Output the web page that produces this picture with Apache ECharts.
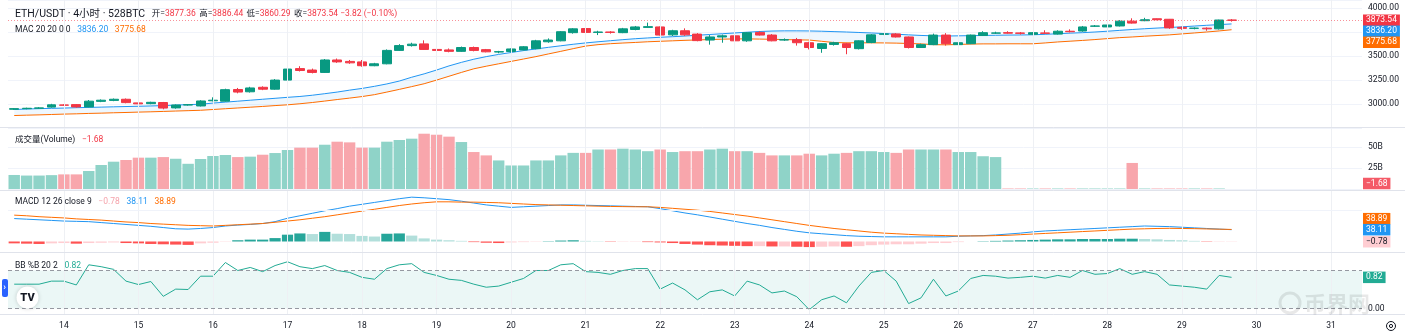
<!DOCTYPE html>
<html><head><meta charset="utf-8">
<script src="https://cdn.jsdelivr.net/npm/echarts@6.0.0/dist/echarts.min.js"></script>
<style>html,body{margin:0;padding:0;background:#fff}#c{width:1405px;height:336px}</style>
</head><body><div id="c"></div>
<script>
// ---------- data ----------
const dayLabels = ['14','15','16','17','18','19','20','21','22','23','24','25','26','27','28','29','30','31'];
const startDay = 13, startHour = 8, slotCount = 109;

const open = [2946,2952,2956,2968,2990,2994,2970,3028,3038,3050, 3012,3004,3016,2960,2990,2980,3034,3030,3152,3128, 3175,3155,3250,3370,3355,3330,3460,3445,3440,3400, 3420,3560,3610,3628,3570,3565,3550,3590,3568,3543, 3548,3565,3578,3650,3660,3745,3788,3748,3752,3745, 3778,3800,3805,3722,3765,3730,3668,3700,3712,3660, 3748,3720,3668,3672,3640,3580,3622,3630,3578,3642, 3728,3732,3700,3590,3620,3720,3620,3630,3715,3740, 3745,3742,3728,3742,3730,3760,3762,3812,3805,3815, 3865,3870,3890,3885,3800,3790,3792,3785,3877.36];
const close = [2952,2956,2960,2992,2988,2970,3030,3040,3050,3015, 3002,3018,2958,2990,2993,3032,3040,3150,3125,3168, 3155,3250,3365,3350,3330,3460,3440,3430,3400,3420, 3560,3610,3625,3570,3560,3550,3590,3560,3545,3547, 3575,3598,3660,3668,3755,3785,3748,3752,3748,3785, 3805,3808,3720,3765,3722,3662,3700,3712,3660,3745, 3720,3660,3672,3640,3590,3630,3640,3590,3660,3722, 3732,3700,3590,3620,3720,3630,3640,3720,3745,3742, 3740,3738,3745,3738,3760,3755,3805,3815,3825,3865, 3845,3880,3880,3795,3790,3792,3785,3877,3873.54];
const high = [2958,2962,2968,3002,2998,3000,3042,3048,3058,3058, 3018,3024,3022,2996,3000,3040,3070,3160,3168,3180, 3185,3260,3375,3395,3370,3470,3475,3460,3460,3430, 3570,3625,3640,3665,3590,3580,3600,3600,3575,3555, 3580,3605,3670,3685,3762,3792,3810,3765,3760,3795, 3815,3850,3810,3775,3790,3740,3720,3725,3730,3752, 3760,3730,3685,3690,3650,3635,3650,3640,3665,3730, 3740,3740,3705,3630,3735,3740,3655,3725,3760,3755, 3760,3752,3752,3770,3770,3780,3815,3825,3835,3875, 3895,3900,3893,3888,3808,3800,3800,3880,3886.44];
const low = [2938,2945,2950,2962,2980,2962,2965,3020,3030,3008, 2995,2998,2945,2952,2984,2975,3028,3025,3112,3120, 3145,3150,3240,3340,3320,3325,3430,3420,3390,3395, 3415,3555,3600,3565,3550,3540,3545,3550,3540,3530, 3540,3560,3572,3640,3655,3735,3740,3720,3735,3740, 3770,3798,3715,3710,3712,3655,3620,3640,3655,3650, 3715,3655,3660,3610,3570,3535,3610,3520,3570,3635, 3720,3695,3580,3585,3615,3610,3610,3625,3710,3732, 3735,3725,3720,3735,3725,3748,3755,3805,3800,3810, 3840,3865,3875,3785,3775,3780,3765,3778,3860.29];

const macUpper = [2943,2948,2952,2955,2958,2962,2965,2968,2971,2974, 2977,2980,2984,2989,2994,2998,3010,3020,3030,3040, 3050,3060,3070,3079,3092,3108,3125,3145,3163,3185, 3210,3240,3280,3315,3355,3398,3435,3468,3495,3518, 3538,3558,3575,3592,3608,3624,3638,3650,3661,3672, 3682,3690,3697,3703,3710,3718,3726,3734,3742,3750, 3757,3762,3764,3764,3763,3760,3756,3752,3747,3742, 3736,3729,3722,3716,3712,3710,3712,3714,3716,3718, 3720,3721,3723,3728,3734,3740,3745,3752,3760,3769, 3778,3786,3793,3799,3806,3814,3822,3829,3836.2];
const macLower = [2880,2884,2887,2891,2895,2898,2902,2905,2909,2912, 2916,2919,2923,2927,2931,2935,2943,2951,2959,2967, 2975,2984,2992,3003,3016,3031,3047,3062,3078,3098, 3125,3153,3182,3212,3250,3290,3330,3368,3395,3420, 3445,3470,3495,3523,3550,3578,3605,3620,3630,3637, 3643,3650,3655,3660,3665,3669,3673,3677,3680,3680, 3678,3676,3673,3670,3668,3655,3642,3639,3639,3639, 3638,3636,3632,3628,3620,3618,3622,3626,3628,3628, 3629,3629,3629,3638,3648,3656,3664,3673,3683,3693, 3700,3708,3715,3722,3732,3742,3752,3763,3775.68];

const volume = [16.7,16,16,16.5,17.4,17.4,21.4,28.6,32.5,34.5, 37.3,37.3,38,36,30,35.7,39.3,40.5,38,38.5, 40.8,42.8,46.4,49.2,49.2,52.7,56.3,55.5,49.2,49.2, 56.3,58.3,59.9,65.8,64.6,62.3,55.9,44,40,34, 28,28,34,34,40,43,43,47,47,48, 47,45,47,44,45,45,47,48,45,45, 43,40,40,40,42,40,42,43,45,45, 44,43,47,47,47,47,44,44,39,38, 0.6,0.6,0.6,0.6,0.6,0.6,0.6,0.6,0.6,0.6, 31,0.6,0.6,0.6,0.6,0.6,0.6,0.6,-1.68];

const macdLine = [74,72,70,68,66,65,64,61,58,55, 52,49,45,41,40,42,45,50,53,55, 58,64,75,83,91,99,106,114,120,126, 132,138,143,141,138,135,130,124,118,114, 110,112,114,116,118,118,117,116,115,114, 113,112,106,99,92,86,79,72,65,58, 52,45,39,33,28,25,22,19,17,16, 15,15,15,15,15,15,17,18,19,21, 24,27,31,34,36,38,40,42,44,46, 48,50,49,48,46,44,42,40,38.11];
const signalLine = [85,83,80,78,76,73,71,69,66,63, 61,58,56,54,52,51,50,52,54,56, 58,62,66,70,75,80,86,92,98,104, 110,116,121,125,128,128,127,127,126,125, 123,121,119,118,117,116,115,114,113,112.5, 112,112,110,107,104,101,97,92,87,82, 76,70,64,58,52,47,42,38,34,30, 27,25,23,21,20,19,18,18,18,19, 20,22,24,26,28,30,32,34,36,38, 40,41,42,42.5,42,41.5,40.5,39.7,38.89];
const histogram = [-6,-7,-8,-6,-5,-7,-5,-4,-3,-5, -6,-8,-9,-10,-11,-6,-4,-1,4,6, 6,11,22,26,24,31,25,24,18,16, 25,26,19,10,6,4,2,-2,-4,-5, -3,-2,-1,1,3,4,2,1,-1,-1, -1,-2,-3,-5,-8,-10,-12,-13,-14,-15, -15,-16,-16,-17,-18,-17,-16,-17,-15,-12, -10,-9,-9,-7,-5,-5,-2,0,1,2, 3,4,5,6,7,7,8,8,8,9, 9,8,7,5,4,2,-1,-1,-0.78];

const bbPercentB = [0.64,0.64,0.64,0.72,0.72,0.62,1.15,1.10,1.03,0.72, 0.63,0.71,0.32,0.51,0.50,0.85,0.85,1.21,1.00,1.08, 0.97,1.13,1.23,1.10,1.05,1.13,1.00,0.95,0.82,0.77, 1.05,1.15,1.18,0.95,0.87,0.77,0.74,0.64,0.56,0.59, 0.69,0.79,1.00,1.00,1.15,1.18,0.97,0.95,0.90,1.00, 1.05,1.05,0.51,0.67,0.49,0.23,0.44,0.49,0.33,0.72, 0.62,0.41,0.46,0.31,-0.03,0.23,0.33,0.15,0.59,0.95, 1.00,0.72,0.13,0.28,0.77,0.33,0.46,0.79,0.87,0.85, 0.80,0.82,0.85,0.80,0.87,0.82,1.00,0.90,0.92,1.05, 0.90,0.97,0.90,0.62,0.59,0.56,0.51,0.87,0.82];

const priceTicks = [3000,3250,3500,4000];
const volumeTicks = [25,50];
const macdTicks = [100];
const bbTicks = [0,1];

// ---------- build ----------
const categories = [];
for (let i = 0; i < slotCount; i++) {
  const h = startHour + 4 * i;
  const d = startDay + Math.floor(h / 24);
  categories.push(d + ' ' + String(h % 24).padStart(2, '0') + ':00');
}
const n = close.length;
const last = n - 1;
const UP = '#089981', DOWN = '#f23645';
const FONT = 'Roboto, "Noto Sans CJK SC", sans-serif';
const TXT = '#131722';

const candleData = open.map((o, i) => [o, close[i], low[i], high[i]]);
const macDiff = macUpper.map((u, i) => u - macLower[i]);
const volData = volume.map((v, i) => ({ value: v, itemStyle: { color: close[i] >= open[i] ? '#8fd3c8' : '#f8a6ac' } }));
const histData = histogram.map((v, i) => {
  const p = i > 0 ? histogram[i - 1] : v;
  let c;
  if (v >= 0) c = v >= p ? '#26a69a' : '#b2dfdb';
  else c = (i === 0 || v < p) ? '#ff5252' : '#ffcdd2';
  return { value: v, itemStyle: { color: c } };
});

const GL = 8, GR = 43;
const grids = [
  { left: GL, right: GR, top: 0, height: 128 },
  { left: GL, right: GR, top: 128, height: 61 },
  { left: GL, right: GR, top: 191, height: 61 },
  { left: GL, right: GR, top: 253, height: 61 }
];
const xAxes = grids.map((g, k) => ({
  type: 'category', gridIndex: k, data: categories, boundaryGap: true,
  axisLine: { show: false }, axisTick: { show: false }, splitLine: { show: false },
  axisLabel: k === 3 ? {
    show: true, color: TXT, fontSize: 8.5, fontFamily: FONT, margin: 8,
    interval: (idx, val) => val.endsWith(' 00:00'),
    formatter: val => val.split(' ')[0]
  } : { show: false }
}));
const yBase = (k, extra) => Object.assign({
  type: 'value', gridIndex: k, position: 'right', scale: false,
  axisLine: { show: false }, axisTick: { show: false },
  splitLine: { show: true, lineStyle: { color: '#f0f3fa', width: 1 } },
}, extra);
const yAxes = [
  yBase(0, { min: 2750, max: 4086, interval: 250,
    axisLabel: { color: TXT, fontSize: 8.5, fontFamily: FONT, margin: 6,
      formatter: v => priceTicks.includes(v) ? v.toFixed(2) : '' } }),
  yBase(1, { min: 0, max: 72.6, interval: 25,
    axisLabel: { color: TXT, fontSize: 8.5, fontFamily: FONT, margin: 6,
      formatter: v => volumeTicks.includes(v) ? v + 'B' : '' } }),
  yBase(2, { min: -33.9, max: 162.9, splitLine: { show: false },
    axisLabel: { color: TXT, fontSize: 8.5, fontFamily: FONT, margin: 6,
      formatter: v => macdTicks.some(t => Math.abs(t - v) < 1e-6) ? v.toFixed(2) : '' } }),
  yBase(3, { min: -0.1447, max: 1.4605, splitLine: { show: false },
    axisLabel: { color: TXT, fontSize: 8.5, fontFamily: FONT, margin: 6,
      formatter: v => bbTicks.some(t => Math.abs(t - v) < 1e-6) ? v.toFixed(2) : '' } })
];

const dayLines = dayLabels.map(d => ({ xAxis: d + ' 00:00' }));
const vHelper = k => ({
  type: 'line', xAxisIndex: k, yAxisIndex: k, data: new Array(n).fill(null),
  silent: true, z: 0, symbol: 'none', lineStyle: { opacity: 0 },
  markLine: { silent: true, symbol: ['none', 'none'], animation: false, label: { show: false },
    lineStyle: { color: '#eef0f4', width: 1, type: 'solid' }, data: dayLines }
});

const series = [
  vHelper(0), vHelper(1), vHelper(2), vHelper(3),
  { type: 'line', xAxisIndex: 0, yAxisIndex: 0, data: macLower, stack: 'mac', symbol: 'none',
    lineStyle: { opacity: 0 }, silent: true, z: 1 },
  { type: 'line', xAxisIndex: 0, yAxisIndex: 0, data: macDiff, stack: 'mac', symbol: 'none',
    lineStyle: { opacity: 0 }, areaStyle: { color: 'rgba(33,150,243,0.11)' }, silent: true, z: 1 },
  { type: 'line', xAxisIndex: 0, yAxisIndex: 0, data: macUpper, symbol: 'none',
    lineStyle: { color: '#2196f3', width: 1 }, silent: true, z: 2 },
  { type: 'line', xAxisIndex: 0, yAxisIndex: 0, data: macLower, symbol: 'none',
    lineStyle: { color: '#ff6d00', width: 1 }, silent: true, z: 2 },
  { type: 'candlestick', xAxisIndex: 0, yAxisIndex: 0, data: candleData, barWidth: '76%', z: 3,
    itemStyle: { color: UP, color0: DOWN, borderColor: UP, borderColor0: DOWN, borderWidth: 1 },
    markLine: { silent: true, symbol: ['none', 'none'], animation: false, label: { show: false },
      lineStyle: { color: '#f23645', opacity: 0.55, type: [1, 2], width: 1 },
      data: [{ yAxis: close[last] }] } },
  { type: 'bar', xAxisIndex: 1, yAxisIndex: 1, data: volData, barCategoryGap: '8%', z: 2 },
  { type: 'bar', xAxisIndex: 2, yAxisIndex: 2, data: histData, barCategoryGap: '10%', z: 2,
    markLine: { silent: true, symbol: ['none', 'none'], animation: false, label: { show: false },
      lineStyle: { color: '#f0f3fa', width: 1, type: 'solid' }, data: macdTicks.map(t => ({ yAxis: t })) } },
  { type: 'line', xAxisIndex: 2, yAxisIndex: 2, data: macdLine, symbol: 'none',
    lineStyle: { color: '#2196f3', width: 1 }, z: 3 },
  { type: 'line', xAxisIndex: 2, yAxisIndex: 2, data: signalLine, symbol: 'none',
    lineStyle: { color: '#ff6d00', width: 1 }, z: 3 },
  { type: 'line', xAxisIndex: 3, yAxisIndex: 3, data: bbPercentB, symbol: 'none',
    lineStyle: { color: '#22ab94', width: 1 }, z: 3,
    markArea: { silent: true, itemStyle: { color: 'rgba(38,166,154,0.09)' },
      data: [[{ yAxis: bbTicks[0] }, { yAxis: bbTicks[1] }]] },
    markLine: { silent: true, symbol: ['none', 'none'], animation: false, label: { show: false },
      lineStyle: { color: '#9598a1', width: 1, type: [4, 3] }, data: bbTicks.map(t => ({ yAxis: t })) } }
];

const chart = echarts.init(document.getElementById('c'), null, { renderer: 'canvas', width: 1405, height: 336 });
chart.setOption({ animation: false, backgroundColor: '#ffffff', grid: grids, xAxis: xAxes, yAxis: yAxes, series: series });

// ---------- overlays ----------
const fmt = v => (v < 0 ? '\u2212' : '') + Math.abs(v).toFixed(2);
const py = (k, v) => chart.convertToPixel({ yAxisIndex: k }, v);
function stackBoxes(items, dir, top, bottom) {
  items.forEach(it => { it.y = Math.min(Math.max(py(it.k, it.v), top + 5.5), bottom - 5.5); });
  items.sort((a, b) => a.y - b.y);
  if (dir > 0) { for (let i = 1; i < items.length; i++) items[i].y = Math.max(items[i].y, items[i - 1].y + 11); }
  else { for (let i = items.length - 2; i >= 0; i--) items[i].y = Math.min(items[i].y, items[i + 1].y - 11); }
  return items.map(it => ({
    type: 'text', x: 1363, y: it.y, z: 100,
    style: { text: fmt(it.v), fill: it.fg || '#fff', font: '8.5px ' + FONT, verticalAlign: 'middle',
      backgroundColor: it.bg, padding: [2, 3, 1, 3] }
  }));
}
const boxes = [].concat(
  stackBoxes([{ k: 0, v: close[last], bg: '#f23645' }, { k: 0, v: macUpper[last], bg: '#2196f3' }, { k: 0, v: macLower[last], bg: '#ff6d00' }], 1, 0, 127),
  stackBoxes([{ k: 1, v: volume[last], bg: '#f45a67' }], 1, 128, 189),
  stackBoxes([{ k: 2, v: signalLine[last], bg: '#ff6d00' }, { k: 2, v: macdLine[last], bg: '#2196f3' }, { k: 2, v: histogram[last], bg: '#ffcdd2', fg: '#131722' }], -1, 191, 252),
  stackBoxes([{ k: 3, v: bbPercentB[last], bg: '#22ab94' }], 1, 253, 314)
);

const chg = close[last] - open[last];
const pct = chg / open[last] * 100;
const legendRich = {
  t: { fill: TXT, fontSize: 10.5, fontFamily: FONT },
  k: { fill: TXT, fontSize: 8.5, fontFamily: FONT },
  r: { fill: '#f23645', fontSize: 8.5, fontFamily: FONT },
  b: { fill: '#2196f3', fontSize: 8.5, fontFamily: FONT },
  o: { fill: '#ff6d00', fontSize: 8.5, fontFamily: FONT },
  p: { fill: '#f5a3ab', fontSize: 8.5, fontFamily: FONT },
  g: { fill: '#22ab94', fontSize: 8.5, fontFamily: FONT }
};
const legend = (y, text) => ({ type: 'text', x: 15, y: y, z: 100, style: { text: text, rich: legendRich, verticalAlign: 'middle' } });
const sep = y => ({ type: 'line', z: 50, shape: { x1: 0, y1: y, x2: 1405, y2: y }, style: { stroke: '#e0e3eb', lineWidth: 1 } });

const graphics = [
  sep(127.5), sep(190.5), sep(252.5), sep(314.5),
  legend(14, '{t|ETH/USDT \u00b7 4\u5c0f\u65f6 \u00b7 528BTC}  {k|\u5f00=}{r|' + open[last].toFixed(2) + '} {k|\u9ad8=}{r|' + high[last].toFixed(2) + '} {k|\u4f4e=}{r|' + low[last].toFixed(2) + '} {k|\u6536=}{r|' + close[last].toFixed(2) + ' ' + fmt(chg) + ' (' + fmt(pct) + '%)}'),
  legend(29.5, '{k|MAC 20 20 0 0}  {b|' + macUpper[last].toFixed(2) + '}  {o|' + macLower[last].toFixed(2) + '}'),
  legend(139.7, '{k|\u6210\u4ea4\u91cf(Volume)}  {r|' + fmt(volume[last]) + '}'),
  legend(202.3, '{k|MACD 12 26 close 9}  {p|' + fmt(histogram[last]) + '}  {b|' + macdLine[last].toFixed(2) + '}  {o|' + signalLine[last].toFixed(2) + '}'),
  legend(265.7, '{k|BB %B 20 2}  {g|' + bbPercentB[last].toFixed(2) + '}'),
  { type: 'rect', z: 100, shape: { x: 2, y: 279, width: 6, height: 18, r: 2 }, style: { fill: '#2962ff' } },
  { type: 'text', z: 101, x: 3.2, y: 288, style: { text: '\u203a', fill: '#fff', font: 'bold 9px ' + FONT, verticalAlign: 'middle' } },
  { type: 'circle', z: 100, shape: { cx: 27.5, cy: 297.5, r: 11 }, style: { fill: '#fff', shadowBlur: 4, shadowColor: 'rgba(0,0,0,0.18)' } },
  { type: 'text', z: 101, x: 27.5, y: 298, style: { text: 'TV', fill: '#131722', font: '900 11px ' + FONT, align: 'center', verticalAlign: 'middle' } },
  { type: 'circle', z: 90, shape: { cx: 1290, cy: 303, r: 10 }, style: { fill: 'none', stroke: 'rgba(0,0,0,0.09)', lineWidth: 3 } },
  { type: 'text', z: 90, x: 1304, y: 304, style: { text: '\u5e01\u754c\u7f51', fill: 'rgba(0,0,0,0.09)', font: 'bold 22px "Noto Sans CJK SC", sans-serif', verticalAlign: 'middle' } },
  { type: 'circle', z: 100, shape: { cx: 1391, cy: 326, r: 4.5 }, style: { fill: 'none', stroke: '#131722', lineWidth: 1 } },
  { type: 'circle', z: 100, shape: { cx: 1391, cy: 326, r: 1.6 }, style: { fill: 'none', stroke: '#131722', lineWidth: 1 } }
].concat(boxes);

chart.setOption({ graphic: graphics });
</script>
</body></html>
